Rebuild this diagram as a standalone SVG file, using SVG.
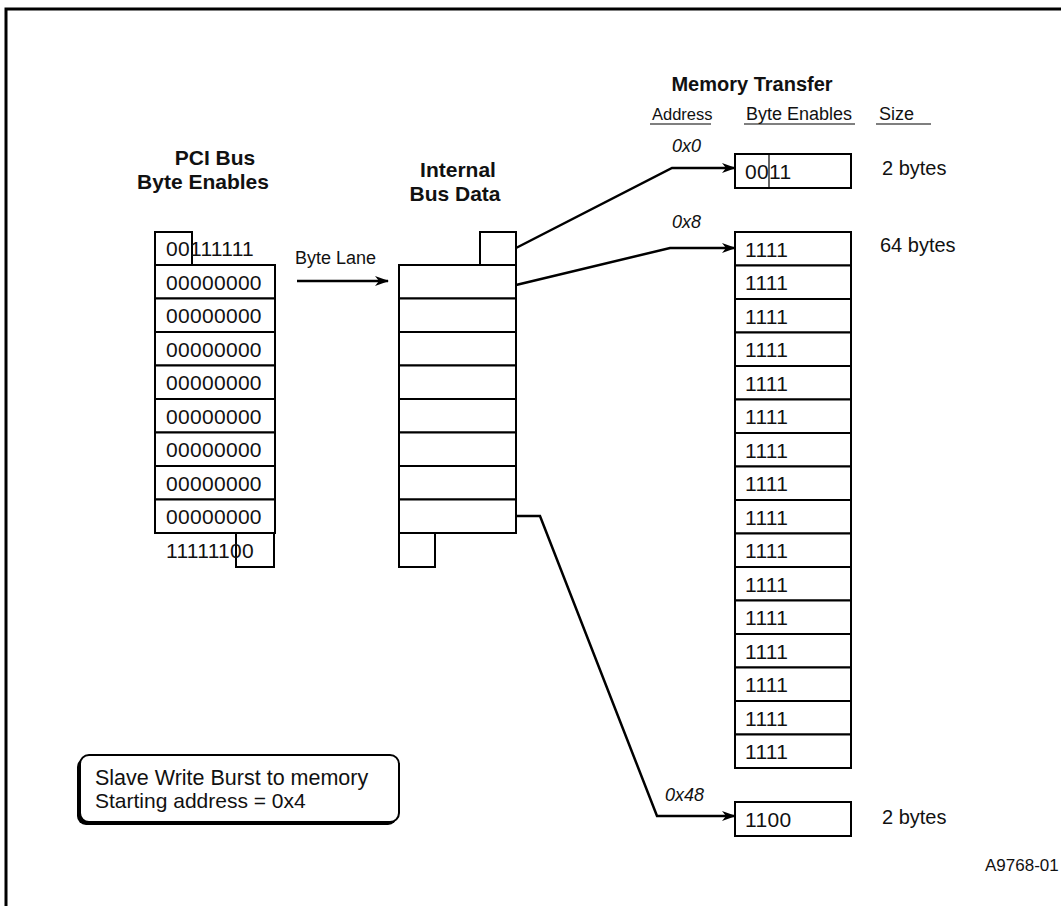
<svg xmlns="http://www.w3.org/2000/svg" width="1061" height="906" viewBox="0 0 1061 906">
<defs>
<style>
text{font-family:"Liberation Sans",Arial,sans-serif;fill:#111}
.h{font-weight:bold;font-size:21px;text-anchor:middle}
.d{font-size:21px;letter-spacing:0.3px}
.l{font-size:20px}
.i{font-size:18px;font-style:italic}
.c{fill:#fff;stroke:#000;stroke-width:2}
.w{fill:none;stroke:#000;stroke-width:2.5}
.u{stroke:#000;stroke-width:1.2}
</style>
<marker id="ah" markerWidth="14" markerHeight="10" refX="13" refY="5" orient="auto" markerUnits="userSpaceOnUse">
<path d="M0,0 L14,5 L0,10 L4,5 Z" fill="#000"/>
</marker>
</defs>
<rect width="1061" height="906" fill="#fff"/>
<path d="M6,906 V9 H1061" fill="none" stroke="#000" stroke-width="3"/>

<g id="pci">
<text class="h" x="215" y="165">PCI Bus</text>
<text class="h" x="203" y="189">Byte Enables</text>
<rect class="c" x="155" y="232" width="37" height="33"/>
<text class="d" x="166" y="256">00111111</text>
<rect class="c" x="155" y="265" width="120" height="33.5"/>
<rect class="c" x="155" y="298.5" width="120" height="33.5"/>
<rect class="c" x="155" y="332" width="120" height="33.5"/>
<rect class="c" x="155" y="365.5" width="120" height="33.5"/>
<rect class="c" x="155" y="399" width="120" height="33.5"/>
<rect class="c" x="155" y="432.5" width="120" height="33.5"/>
<rect class="c" x="155" y="466" width="120" height="33.5"/>
<rect class="c" x="155" y="499.5" width="120" height="33.5"/>
<text class="d" x="166" y="289.5">00000000</text>
<text class="d" x="166" y="323">00000000</text>
<text class="d" x="166" y="356.5">00000000</text>
<text class="d" x="166" y="390">00000000</text>
<text class="d" x="166" y="423.5">00000000</text>
<text class="d" x="166" y="457">00000000</text>
<text class="d" x="166" y="490.5">00000000</text>
<text class="d" x="166" y="524">00000000</text>
<rect class="c" x="236" y="533" width="38" height="34"/>
<text class="d" x="166" y="557.5">11111100</text>
</g>

<g id="internal">
<text class="h" x="458" y="177">Internal</text>
<text class="h" x="455" y="201">Bus Data</text>
<rect class="c" x="480" y="232" width="36" height="33"/>
<rect class="c" x="399" y="265" width="117" height="33.5"/>
<rect class="c" x="399" y="298.5" width="117" height="33.5"/>
<rect class="c" x="399" y="332" width="117" height="33.5"/>
<rect class="c" x="399" y="365.5" width="117" height="33.5"/>
<rect class="c" x="399" y="399" width="117" height="33.5"/>
<rect class="c" x="399" y="432.5" width="117" height="33.5"/>
<rect class="c" x="399" y="466" width="117" height="33.5"/>
<rect class="c" x="399" y="499.5" width="117" height="33.5"/>
<rect class="c" x="399" y="533" width="36" height="34"/>
</g>

<g id="header">
<text class="h" x="752" y="91" style="font-size:20px">Memory Transfer</text>
<text x="652" y="120" style="font-size:16.5px">Address</text>
<text x="746" y="120" style="font-size:18px">Byte Enables</text>
<text x="879" y="120" style="font-size:18px">Size</text>
<line class="u" x1="650" y1="124" x2="711" y2="124"/>
<line class="u" x1="744" y1="124" x2="855" y2="124"/>
<line class="u" x1="876" y1="124" x2="931" y2="124"/>
</g>

<g id="mem0">
<rect class="c" x="735" y="154" width="116" height="34"/>
<line x1="769" y1="154" x2="769" y2="188" stroke="#000" stroke-width="1.2"/>
<text class="d" x="745" y="178.5">0011</text>
<text class="l" x="882" y="175">2 bytes</text>
</g>

<g id="mem8">
<rect class="c" x="735" y="232" width="116" height="33.5"/>
<rect class="c" x="735" y="265.5" width="116" height="33.5"/>
<rect class="c" x="735" y="299" width="116" height="33.5"/>
<rect class="c" x="735" y="332.5" width="116" height="33.5"/>
<rect class="c" x="735" y="366" width="116" height="33.5"/>
<rect class="c" x="735" y="399.5" width="116" height="33.5"/>
<rect class="c" x="735" y="433" width="116" height="33.5"/>
<rect class="c" x="735" y="466.5" width="116" height="33.5"/>
<rect class="c" x="735" y="500" width="116" height="33.5"/>
<rect class="c" x="735" y="533.5" width="116" height="33.5"/>
<rect class="c" x="735" y="567" width="116" height="33.5"/>
<rect class="c" x="735" y="600.5" width="116" height="33.5"/>
<rect class="c" x="735" y="634" width="116" height="33.5"/>
<rect class="c" x="735" y="667.5" width="116" height="33.5"/>
<rect class="c" x="735" y="701" width="116" height="33.5"/>
<rect class="c" x="735" y="734.5" width="116" height="33.5"/>
<text class="d" x="745" y="256.5">1111</text>
<text class="d" x="745" y="290">1111</text>
<text class="d" x="745" y="323.5">1111</text>
<text class="d" x="745" y="357">1111</text>
<text class="d" x="745" y="390.5">1111</text>
<text class="d" x="745" y="424">1111</text>
<text class="d" x="745" y="457.5">1111</text>
<text class="d" x="745" y="491">1111</text>
<text class="d" x="745" y="524.5">1111</text>
<text class="d" x="745" y="558">1111</text>
<text class="d" x="745" y="591.5">1111</text>
<text class="d" x="745" y="625">1111</text>
<text class="d" x="745" y="658.5">1111</text>
<text class="d" x="745" y="692">1111</text>
<text class="d" x="745" y="725.5">1111</text>
<text class="d" x="745" y="759">1111</text>
<text class="l" x="880" y="252">64 bytes</text>
</g>

<g id="mem48">
<rect class="c" x="735" y="802" width="116" height="34"/>
<text class="d" x="745" y="826.5">1100</text>
<text class="l" x="882" y="824">2 bytes</text>
</g>

<g id="note">
<rect x="77" y="758" width="320" height="67" rx="9" fill="#000"/>
<rect x="80" y="755" width="319" height="67" rx="9" fill="#fff" stroke="#000" stroke-width="2"/>
<text x="95" y="785" style="font-size:21.5px">Slave Write Burst to memory</text>
<text x="95" y="808" style="font-size:21px">Starting address = 0x4</text>
</g>

<g id="connectors">
<text x="295" y="264" style="font-size:18px">Byte Lane</text>
<line class="w" x1="297" y1="281" x2="388" y2="281" marker-end="url(#ah)"/>
<text class="i" x="672" y="152">0x0</text>
<polyline class="w" points="516,248 672,168 735,168" marker-end="url(#ah)"/>
<text class="i" x="672" y="228">0x8</text>
<polyline class="w" points="516,285 670,248 735,248" marker-end="url(#ah)"/>
<text class="i" x="665" y="801">0x48</text>
<polyline class="w" points="516,516 540,516 657,816 735,816" marker-end="url(#ah)"/>
</g>

<text x="985" y="871" style="font-size:17px">A9768-01</text>
</svg>
